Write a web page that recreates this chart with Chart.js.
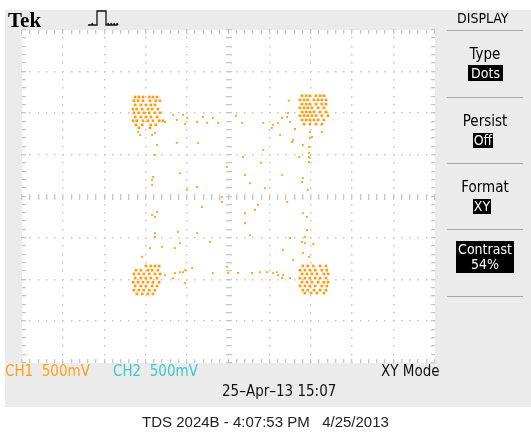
<!DOCTYPE html>
<html><head><meta charset="utf-8">
<script src="https://cdn.jsdelivr.net/npm/chart.js@4"></script>
<style>
html,body{margin:0;padding:0;width:531px;height:434px;background:#fff;overflow:hidden;font-family:"Liberation Sans",Arial,sans-serif;}
#screen{position:absolute;left:5px;top:10px;width:526px;height:397px;background:#ebebeb;}
canvas{position:absolute;left:0;top:0;}
.t{position:absolute;white-space:nowrap;line-height:1;}
.n{font-family:"Liberation Sans Narrow","DejaVu Sans Condensed","Liberation Sans",sans-serif;}
.box{position:absolute;background:#000;color:#fff;text-align:center;}
.sep{position:absolute;left:447px;width:76px;height:1px;background:#a8a8a8;}
</style></head><body>
<div id="screen"></div>
<canvas id="c" width="531" height="434"></canvas>
<div class="t" style="left:8px;top:8px;font:bold 21px 'Liberation Serif','DejaVu Serif',serif;">Tek</div>
<svg style="position:absolute;left:86px;top:8px" width="34" height="20"><path d="M2,17 L6,17 L6,15 L7,17 L11,17 L11,3 L20,3 L20,17 L22,17 L22,15 L23,17 L25,17 L25,15 L26,17 L28,17 L28,15 L29,17 L31,17 L31,15 L32,17" fill="none" stroke="#111" stroke-width="1.3"/></svg>
<div class="t n" style="left:457px;top:11px;font-size:14px;">DISPLAY</div>
<div class="sep" style="top:30px"></div>
<div class="sep" style="top:97px"></div>
<div class="sep" style="top:163px"></div>
<div class="sep" style="top:229px"></div>
<div class="sep" style="top:296px"></div>
<div class="t n" style="left:447px;width:76px;text-align:center;top:47px;font-size:15px;">Type</div>
<div class="box n" style="left:468px;top:65px;width:35px;height:16px;font-size:14px;line-height:16px;">Dots</div>
<div class="t n" style="left:447px;width:76px;text-align:center;top:114px;font-size:15px;">Persist</div>
<div class="box n" style="left:473px;top:133px;width:20px;height:15px;font-size:14px;line-height:15px;">Off</div>
<div class="t n" style="left:447px;width:76px;text-align:center;top:180px;font-size:15px;">Format</div>
<div class="box n" style="left:473px;top:199px;width:18px;height:15px;font-size:14px;line-height:15px;">XY</div>
<div class="box n" style="left:456px;top:241px;width:58px;height:31px;font-size:14px;line-height:15px;padding-top:1px;">Contrast<br>54%</div>
<div class="t n" style="left:5px;top:364px;font-size:15px;color:#f7a21b;">CH1&nbsp;&nbsp;500mV</div>
<div class="t n" style="left:113px;top:364px;font-size:15px;color:#3ec9c9;">CH2&nbsp;&nbsp;500mV</div>
<div class="t n" style="left:381px;top:364px;font-size:15px;color:#111;">XY Mode</div>
<div class="t n" style="left:222px;top:384px;font-size:15px;color:#111;">25&#8211;Apr&#8211;13 15:07</div>
<div class="t" style="left:0;width:531px;text-align:center;top:414px;font-size:15px;color:#222;">TDS 2024B - 4:07:53 PM&nbsp;&nbsp;&nbsp;4/25/2013</div>
<script>
// XY-mode dots, in screen divisions (CH1 on x, CH2 on y, 500 mV/div)
const clusterTL = [
  [2.39, [-2.26,-2.17,-2.07,-1.92,-1.83,-1.73]],
  [2.30, [-2.29,-2.19,-2.07,-1.90,-1.76,-1.66]],
  [2.20, [-2.26,-2.12,-2.00,-1.88,-1.78]],
  [2.10, [-2.31,-2.22,-2.09,-1.95,-1.85,-1.71]],
  [2.01, [-2.29,-2.17,-2.05,-1.92,-1.78,-1.66]],
  [1.91, [-2.26,-2.12,-2.00,-1.88,-1.73]],
  [1.82, [-2.31,-2.22,-2.07,-1.95,-1.83,-1.68,-1.59]],
  [1.72, [-2.24,-2.09,-1.88,-1.76]],
  [1.65, [-2.17,-1.90]]
];
const clusterTR = [
  [2.42, [1.78,1.88,1.97,2.12,2.22,2.31]],
  [2.32, [1.73,1.83,1.92,2.07,2.17,2.26,2.36]],
  [2.22, [1.78,1.88,1.97,2.12,2.26,2.36]],
  [2.13, [1.73,1.83,1.92,2.02,2.17,2.31]],
  [2.03, [1.78,1.88,1.97,2.07,2.22,2.36]],
  [1.94, [1.73,1.83,1.92,2.02,2.12,2.26,2.41]],
  [1.84, [1.78,1.88,1.97,2.07,2.17,2.31]],
  [1.74, [1.83,1.97,2.12,2.26]]
];
const clusterBL = [
  [-1.67, [-2.00,-1.88,-1.78,-1.68]],
  [-1.77, [-2.24,-2.12,-1.95,-1.85,-1.71]],
  [-1.86, [-2.29,-2.17,-2.05,-1.92,-1.78,-1.66]],
  [-1.96, [-2.26,-2.12,-2.00,-1.88,-1.73]],
  [-2.06, [-2.31,-2.19,-2.07,-1.95,-1.83,-1.68]],
  [-2.15, [-2.26,-2.12,-2.00,-1.85,-1.73]],
  [-2.25, [-2.29,-2.17,-2.05,-1.92,-1.78]],
  [-2.34, [-2.22,-2.09,-1.95,-1.83]]
];
const clusterBR = [
  [-1.67, [1.80,1.92,2.05,2.22,2.36]],
  [-1.77, [1.73,1.85,1.97,2.10,2.26,2.38]],
  [-1.86, [1.78,1.90,2.02,2.14,2.31,2.41]],
  [-1.96, [1.73,1.85,1.97,2.10,2.22,2.36]],
  [-2.06, [1.78,1.90,2.02,2.17,2.31,2.41]],
  [-2.15, [1.73,1.85,1.97,2.10,2.26,2.38]],
  [-2.25, [1.80,1.92,2.07,2.22,2.36]],
  [-2.32, [1.85,2.00,2.14,2.31]]
];
const transitionX = [
  -1.34,-1.10,-1.00,-0.62,-0.52,-0.38,-0.25,-0.76,-1.05,-1.25,-1.54,0.18,0.33,0.84,1.05,1.20,1.42,1.49,1.61,1.46,1.44,1.30,1.08,1.54,1.25,1.56,
  -2.19,-2.14,-1.85,-1.78,-1.73,-1.78,-1.83,-1.85,-1.85,-1.73,-1.85,-1.78,-1.78,-1.78,-1.61,-1.90,-2.09,
  -1.25,-0.74,-1.17,-0.76,-1.00,-0.16,-0.04,0.35,0.52,0.40,0.84,0.79,0.88,1.30,1.42,-0.64,0.40,0.40,0.64,0.71,0.52,-0.16,-0.76,-0.45,-1.22,-1.30,-1.17,1.49,1.32,
  1.80,1.97,1.95,1.95,1.95,1.80,1.78,1.92,1.80,1.90,1.90,1.85,1.78,1.56,1.97,2.02,2.26,1.71,1.95,1.97,1.85,2.05,1.80,1.95,
  -1.30,-1.10,-0.88,-0.38,-0.04,-0.01,0.23,0.57,0.76,0.93,1.08,1.20,1.32,-1.54,-1.34,-1.17,-1.05,-1.05,1.17,1.30,1.49
];
const transitionY = [
  1.96,1.96,1.89,1.91,1.77,1.89,1.77,1.79,1.74,1.84,1.79,1.94,1.77,1.77,1.65,1.77,1.91,1.79,1.62,2.30,2.01,1.89,1.72,1.31,1.48,1.36,
  1.55,1.48,1.48,1.53,1.24,1.00,0.47,0.40,0.28,-0.37,-0.44,-0.49,-0.88,-0.97,-1.21,-1.24,-1.45,
  1.29,1.29,0.56,0.23,0.16,-0.01,0.71,0.95,0.32,0.52,1.12,0.81,0.20,0.52,-0.13,-0.25,-0.40,-0.64,-0.32,-0.20,-0.93,-0.13,-0.88,-1.09,-0.85,-1.24,-1.12,-1.00,-1.29,
  1.24,1.41,1.19,0.95,0.83,0.44,0.35,0.16,-0.40,-0.49,-0.81,-0.97,-1.09,-1.53,1.55,1.43,1.55,0.95,1.05,0.93,-1.12,-1.14,-1.36,-1.45,
  -1.84,-1.82,-1.72,-1.84,-1.69,-1.84,-1.84,-1.84,-1.82,-1.82,-1.84,-1.89,-1.89,-1.89,-1.96,-1.82,-1.77,-2.08,-1.82,-1.96,-1.96
];
const xDivs = 5, yDivs = 4; // half-width / half-height in divisions

const clusterPts = [];
[clusterTL, clusterTR, clusterBL, clusterBR].forEach(cl => cl.forEach(([y, xs]) => xs.forEach(x => clusterPts.push({x, y}))));
const tracePts = transitionX.map((x, i) => ({x, y: transitionY[i]}));

const scopeGrid = {
  id: 'scopeGrid',
  beforeDatasetsDraw(chart) {
    const {ctx, chartArea: a, scales: {x: sx, y: sy}} = chart;
    ctx.save();
    ctx.fillStyle = '#ffffff';
    ctx.fillRect(a.left, a.top, a.right - a.left, a.bottom - a.top);
    ctx.fillStyle = '#c6c6c6';
    const step = 0.2;
    for (let gx = -xDivs + 1; gx < xDivs; gx++) {
      if (gx === 0) continue;
      const px = sx.getPixelForValue(gx);
      for (let k = -yDivs * 5; k <= yDivs * 5; k++) {
        const py = sy.getPixelForValue(k * step);
        ctx.fillRect(Math.round(px) - 1, Math.round(py) - 1, 1.5, 1.5);
      }
    }
    for (let gy = -yDivs + 1; gy < yDivs; gy++) {
      if (gy === 0) continue;
      const py = sy.getPixelForValue(gy);
      for (let k = -xDivs * 5; k <= xDivs * 5; k++) {
        const px = sx.getPixelForValue(k * step);
        ctx.fillRect(Math.round(px) - 1, Math.round(py) - 1, 1.5, 1.5);
      }
    }
    const cx = sx.getPixelForValue(0), cy = sy.getPixelForValue(0);
    for (let k = -yDivs * 5; k <= yDivs * 5; k++) {
      const py = Math.round(sy.getPixelForValue(k * step));
      ctx.fillRect(Math.round(cx) - 3, py - 1, 6, 1.3);
    }
    for (let k = -xDivs * 5; k <= xDivs * 5; k++) {
      const px = Math.round(sx.getPixelForValue(k * step));
      ctx.fillRect(px - 1, Math.round(cy) - 3, 1.3, 6);
    }
    for (let k = -xDivs * 5; k <= xDivs * 5; k++) {
      const px = Math.round(sx.getPixelForValue(k * step));
      ctx.fillRect(px - 1, a.top, 1.3, 4);
      ctx.fillRect(px - 1, a.bottom - 4, 1.3, 4);
    }
    for (let k = -yDivs * 5; k <= yDivs * 5; k++) {
      const py = Math.round(sy.getPixelForValue(k * step));
      ctx.fillRect(a.left, py - 1, 4, 1.3);
      ctx.fillRect(a.right - 4, py - 1, 4, 1.3);
    }
    ctx.restore();
  }
};

new Chart(document.getElementById('c'), {
  type: 'scatter',
  data: { datasets: [
    { data: clusterPts, pointStyle: 'rect', pointRadius: 1.9, backgroundColor: '#ff9b0f', borderWidth: 0 },
    { data: tracePts, pointStyle: 'rect', pointRadius: 1.4, backgroundColor: '#ffa526', borderWidth: 0 }
  ] },
  options: {
    responsive: false, animation: false, events: [],
    layout: { padding: { left: 22, top: 30, right: 96, bottom: 71 } },
    plugins: { legend: { display: false }, tooltip: { enabled: false } },
    scales: {
      x: { type: 'linear', min: -xDivs, max: xDivs, display: false },
      y: { type: 'linear', min: -yDivs, max: yDivs, display: false }
    }
  },
  plugins: [scopeGrid]
});
</script>
</body></html>
